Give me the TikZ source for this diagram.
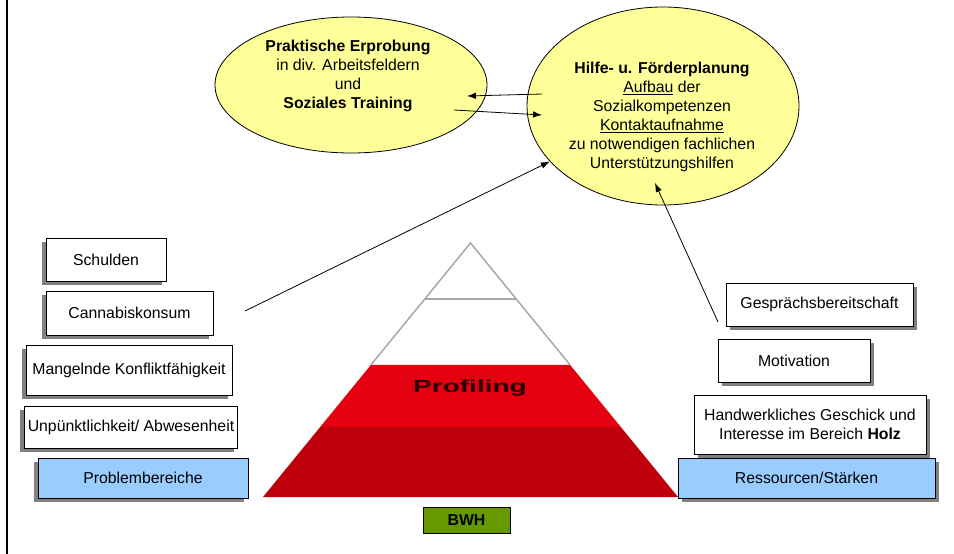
\documentclass[tikz,border=0pt]{standalone}
\usepackage{fontspec}
\setmainfont{Liberation Sans}
\usetikzlibrary{shapes.geometric, arrows.meta, shadows, calc}
\definecolor{planyellow}{HTML}{FFFF99}
\definecolor{headblue}{HTML}{99CCFF}
\definecolor{bwhgreen}{HTML}{669900}
\definecolor{shadowgray}{HTML}{808080}
\definecolor{pyramidgray}{HTML}{A8A8A8}
\definecolor{profilred}{HTML}{E3000F}
\definecolor{profildark}{HTML}{BE000C}

\begin{document}
\begin{tikzpicture}[x=1pt, y=-1pt, font=\fontsize{15.8}{19}\selectfont]
% Define styles
\tikzstyle{problem} = [rectangle, minimum height=43pt, text centered, draw=black, line width=0.8pt, fill=white, drop shadow={shadow xshift=-4pt, shadow yshift=-4pt, fill=shadowgray, opacity=1}]
\tikzstyle{resource} = [rectangle, minimum height=43pt, text centered, draw=black, line width=0.8pt, fill=white, drop shadow={shadow xshift=4pt, shadow yshift=-4pt, fill=shadowgray, opacity=1}]
\tikzstyle{plan} = [ellipse, draw=black, line width=0.8pt, fill=planyellow, inner sep=0pt]
\tikzstyle{arrow} = [-{Latex[length=9pt, width=6.5pt]}, line width=0.8pt]

\useasboundingbox (0,0) rectangle (954,554);
\draw[line width=2.5pt] (7,0) -- (7,554);

% Pyramid
\coordinate (apex) at (470.5,243);
\coordinate (baseL) at (263,497);
\coordinate (baseR) at (678,497);
\fill[profildark] ($(apex)!0.7244!(baseL)$) -- ($(apex)!0.7244!(baseR)$) -- (baseR) -- (baseL) -- cycle;
\fill[profilred] ($(apex)!0.4803!(baseL)$) -- ($(apex)!0.4803!(baseR)$) -- ($(apex)!0.7244!(baseR)$) -- ($(apex)!0.7244!(baseL)$) -- cycle;
\draw[pyramidgray, line width=1.5pt] ($(apex)!0.4803!(baseL)$) -- (apex) -- ($(apex)!0.4803!(baseR)$);
\draw[pyramidgray, line width=1.5pt] ($(apex)!0.2205!(baseL)$) -- ($(apex)!0.2205!(baseR)$);
\node (profiling) at (470,388) {\fontsize{17.5}{17}\selectfont\color{black!85!red}\scalebox{1.6}[1]{\bfseries Profiling}};
\node (bwh) [rectangle, draw=black, line width=0.8pt, fill=bwhgreen, minimum width=87pt, minimum height=26pt, font=\fontsize{15.8}{19}\selectfont\bfseries] at (466.5,520) {BWH};

% Nodes
\node (erprobung) [plan, minimum width=272pt, minimum height=136pt] at (351,85) {};
\node (erprobungtext) [align=center] at (348,75.5) {\textbf{Praktische Erprobung}\\in div. Arbeitsfeldern\\und\\\textbf{Soziales Training}};
\node (hilfe) [plan, minimum width=272pt, minimum height=198pt] at (663,106) {};
\node (hilfetext) [align=center] at (662,117) {\textbf{Hilfe- u. Förderplanung}\\\underline{Aufbau} der\\Sozialkompetenzen\\\underline{Kontaktaufnahme}\\zu notwendigen fachlichen\\Unterstützungshilfen};

\node (schulden) [problem, minimum width=120pt] at (106,259.5) {Schulden};
\node (cannabis) [problem, minimum width=167pt, minimum height=44pt] at (129.5,313) {Cannabiskonsum};
\node (konflikt) [problem, minimum width=206pt, minimum height=50pt] at (129,370) {Mangelnde Konfliktfähigkeit};
\node (abwesenheit) [problem, minimum width=212pt, minimum height=42pt] at (131,427) {Unpünktlichkeit/ Abwesenheit};
\node (problembereiche) [problem, fill=headblue, minimum width=210pt, minimum height=40pt] at (143,478) {Problembereiche};

\node (gespraech) [resource, minimum width=187pt] at (819.5,304.5) {Gesprächsbereitschaft};
\node (motivation) [resource, minimum width=152pt] at (794,360.5) {Motivation};
\node (handwerk) [resource, minimum width=232pt, minimum height=59pt, align=center] at (810,424.5) {Handwerkliches Geschick und\\Interesse im Bereich \textbf{Holz}};
\node (ressourcen) [resource, fill=headblue, minimum width=257pt, minimum height=40pt] at (806.5,478) {Ressourcen/Stärken};

% Connectors
\coordinate (hilfe out) at (542,94);
\coordinate (erprobung in) at (467,96);
\coordinate (erprobung out) at (454,110);
\coordinate (hilfe in) at (542,115);
\coordinate (cannabis out) at (245,311);
\coordinate (gespraech out) at (718,322);
\coordinate (hilfe bottom) at (655,183);
\draw[arrow] (hilfe out) -- (erprobung in);
\draw[arrow] (erprobung out) -- (hilfe in);
\draw[arrow] (cannabis out) -- (hilfe);
\draw[arrow] (gespraech out) -- (hilfe bottom);

\end{tikzpicture}
\end{document}
